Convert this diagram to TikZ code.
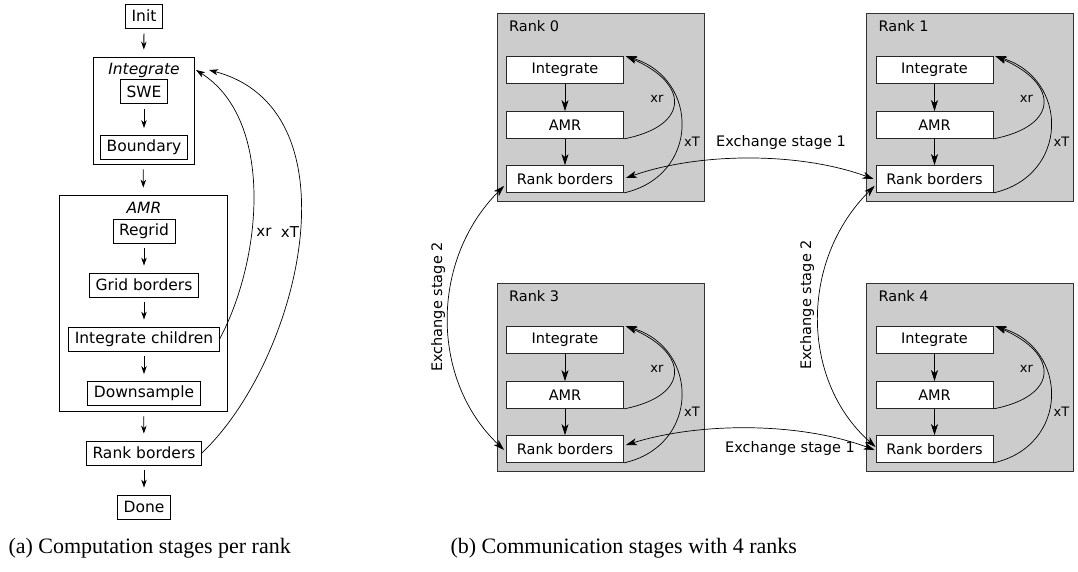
\documentclass[tikz,border=0pt]{standalone}
\usepackage{fontspec}
\setmainfont{DejaVu Sans}
\newfontfamily\capfont{Liberation Serif}
\usetikzlibrary{arrows.meta,calc}
\begin{document}
\begin{tikzpicture}[x=1pt,y=-1pt,
  lbox/.style={draw, line width=0.8pt, fill=white, inner xsep=6pt, inner ysep=0pt, minimum height=24pt, font=\fontsize{15.5}{18}\selectfont},
  lgroup/.style={draw, line width=0.8pt},
  glabel/.style={font=\fontsize{15.5}{18}\selectfont\itshape},
  larr/.style={-{Stealth[length=8pt,width=5.5pt,inset=2.5pt]}, line width=0.8pt, shorten <=5pt, shorten >=7pt},
  lcurve/.style={-{Stealth[length=9pt,width=6pt,inset=2.5pt]}, line width=0.7pt},
  rank/.style={draw=black!80, line width=0.9pt, fill=black!20, minimum width=207pt, minimum height=188pt},
  rbox/.style={draw=black!85, line width=0.8pt, fill=white, minimum width=117pt, minimum height=27pt, inner sep=0pt, font=\fontsize{14.5}{17}\selectfont},
  rlabel/.style={font=\fontsize{14.5}{17}\selectfont},
  slabel/.style={font=\fontsize{13}{15}\selectfont},
  rarr/.style={-{Stealth[length=11pt,width=7pt,inset=3pt]}, line width=0.7pt},
  xarr/.style={{Stealth[length=11pt,width=7pt,inset=3pt]}-{Stealth[length=11pt,width=7pt,inset=3pt]}, line width=0.7pt},
  caption/.style={font=\capfont\fontsize{22}{26}\selectfont, anchor=west}
]
\useasboundingbox (0,0) rectangle (1078,572);

% ---------------- (a) ----------------
\node[lbox] (init) at (144,16) {Init};
\node[lgroup, minimum width=101pt, minimum height=107pt] (intgbox) at (143.5,110.5) {};
\node[glabel] (intglabel) at (144,70) {Integrate};
\node[lbox] (swe) at (144,91.5) {SWE};
\node[lbox] (bound) at (144,147.5) {Boundary};
\node[lgroup, minimum width=168pt, minimum height=216pt] (amrbox) at (143,303) {};
\node[glabel] (amrlabel) at (144,208) {AMR};
\node[lbox] (regrid) at (144,231) {Regrid};
\node[lbox] (grid) at (144,285) {Grid borders};
\node[lbox] (ichild) at (144,339) {Integrate children};
\node[lbox] (down) at (144,393.5) {Downsample};
\node[lbox] (lrb) at (144,453) {Rank borders};
\node[lbox] (done) at (144,507) {Done};

\draw[larr] (init) -- (intgbox);
\draw[larr] (swe) -- (bound);
\draw[larr] (intgbox) -- (amrbox);
\draw[larr] (regrid) -- (grid);
\draw[larr] (grid) -- (ichild);
\draw[larr] (ichild) -- (down);
\draw[larr] (amrbox) -- (lrb);
\draw[larr] (lrb) -- (done);

\coordinate (tipxr) at (196,70);
\coordinate (tipxT) at (209,70);
\draw[lcurve] (ichild.east) .. controls (262,260) and (275,120) .. (tipxr);
\draw[lcurve] (lrb.east) .. controls (300,360) and (360,110) .. (tipxT);
\node[slabel, font=\fontsize{15}{17}\selectfont] (lxr) at (264,232) {xr};
\node[slabel, font=\fontsize{15}{17}\selectfont] (lxT) at (290,232) {xT};

% ---------------- (b) ----------------
\foreach \n/\cx/\cy/\lab in {0/600.5/107/Rank 0, 1/970/107/Rank 1, 3/600.5/377/Rank 3, 4/970/377/Rank 4}{
  \node[rank] (r\n) at (\cx,\cy) {};
  \node[rlabel, anchor=west] (r\n lab) at ($(r\n.north west)+(9,14)$) {\lab};
  \node[rbox] (r\n i) at ($(r\n.center)+(-35.5,-37)$) {Integrate};
  \node[rbox] (r\n a) at ($(r\n.center)+(-35.5,18)$) {AMR};
  \node[rbox] (r\n b) at ($(r\n.center)+(-35.5,72)$) {Rank borders};
  \draw[rarr] (r\n i) -- (r\n a);
  \draw[rarr] (r\n a) -- (r\n b);
  \draw[rarr] (r\n a.south east) .. controls +(66,-13) and +(64,28) .. ($(r\n i.north east)+(2,0)$);
  \draw[rarr] (r\n b.south east) .. controls +(76,-17) and +(74,23) .. ($(r\n i.north east)+(2,0)$);
  \node[slabel] (r\n xr) at ($(r\n i.east)+(33,29)$) {xr};
  \node[slabel] (r\n xT) at ($(r\n i.east)+(68,72)$) {xT};
}

% exchange stage 1
\draw[xarr] ($(r0b.east)+(2,-1)$) .. controls (700,152) and (800,152) .. ($(r1b.west)+(-2,0)$);
\node[rlabel] (ex1a) at (781,143) {Exchange stage 1};
\draw[xarr] ($(r3b.east)+(2,-4)$) .. controls (700,422) and (800,422) .. ($(r4b.west)+(-1,1)$);
\node[rlabel] (ex1b) at (790,448) {Exchange stage 1};

% exchange stage 2
\draw[xarr] ($(r0b.south west)+(-2,-7)$) .. controls (430,260) and (430,380) .. ($(r3b.west)+(-2,1)$);
\node[rlabel, rotate=90] (ex2a) at (438,307) {Exchange stage 2};
\draw[xarr] ($(r1b.south west)+(-1,-7)$) .. controls (800,260) and (800,380) .. ($(r4b.west)+(0,-2)$);
\node[rlabel, rotate=90] (ex2b) at (807,305) {Exchange stage 2};

% captions
\node[caption] (capa) at (5,548) {(a) Computation stages per rank};
\node[caption] (capb) at (447,548) {(b) Communication stages with 4 ranks};
\end{tikzpicture}
\end{document}
